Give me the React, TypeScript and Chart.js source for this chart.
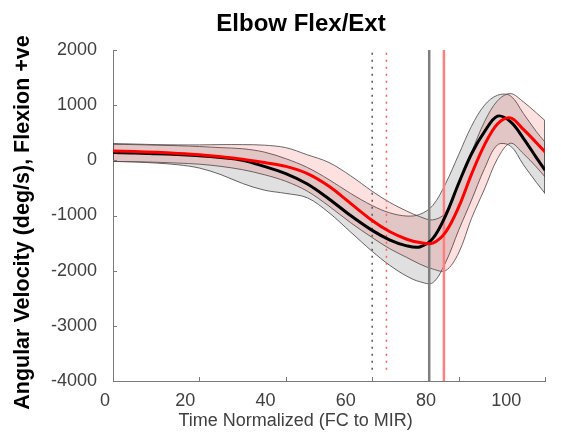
import React, { useEffect, useRef } from "react";
import { Chart, registerables } from "chart.js";

Chart.register(...registerables);

// ---- data ----
const timeX = [0, 5, 10, 15, 20, 25, 30, 35, 40, 45, 50, 55, 60, 64, 68, 71, 74, 77, 80, 83, 86, 89, 92, 95, 98, 100];
const blackMean = [140, 135, 120, 105, 85, 50, 0, -110, -240, -430, -700, -1000, -1270, -1440, -1550, -1570, -1420, -1000, -420, 120, 520, 800, 700, 400, 50, -180];
const blackUpper = [290, 285, 275, 265, 250, 230, 210, 150, 30, -130, -350, -600, -820, -950, -1010, -980, -820, -420, 100, 620, 1000, 1180, 1170, 850, 520, 330];
const blackLower = [-20, -30, -50, -80, -140, -260, -420, -540, -600, -680, -950, -1300, -1650, -1900, -2100, -2200, -2220, -1850, -1270, -720, -150, 280, 260, -80, -400, -600];
const redMean = [170, 160, 145, 125, 100, 65, 20, -40, -110, -240, -470, -780, -1090, -1290, -1430, -1490, -1500, -1300, -850, -250, 280, 660, 770, 560, 320, 150];
const redUpper = [305, 295, 285, 280, 280, 285, 285, 275, 230, 100, -40, -280, -560, -760, -920, -1020, -1080, -950, -420, 150, 700, 1080, 1210, 1060, 860, 720];
const redLower = [-20, -25, -35, -50, -70, -110, -170, -260, -380, -560, -830, -1130, -1400, -1600, -1760, -1880, -1970, -2000, -1680, -1050, -520, 30, 310, 120, -120, -300];

const dottedEvents = [60, 63.3]; // black, red
const solidEvents = [73.2, 76.6]; // black, red
const xTicks = [0, 20, 40, 60, 80, 100];
const yTicks = [-4000, -3000, -2000, -1000, 0, 1000, 2000];
const yRange = [-4000, 2000];
const dottedRange = [-3850, 1950];

const FONT = '"Liberation Sans", Arial, Helvetica, sans-serif';

const pts = (ys: number[]) => timeX.map((x, i) => ({ x, y: ys[i] }));
const vline = (x: number, r: number[]) => [{ x, y: r[1] }, { x, y: r[0] }];
const endEdge = (hi: number[], lo: number[], i: number) => [{ x: timeX[i], y: hi[i] }, { x: timeX[i], y: lo[i] }];

const overlay = {
  id: "overlay",
  afterDraw(chart: any) {
    const ctx = chart.ctx as CanvasRenderingContext2D;
    const xs = chart.scales.x;
    const ys = chart.scales.y;
    const a = chart.chartArea;
    ctx.save();
    // inward tick marks
    ctx.strokeStyle = "#7a7a7a";
    ctx.lineWidth = 1;
    ctx.beginPath();
    for (const v of yTicks) {
      const py = Math.round(ys.getPixelForValue(v)) + 0.5;
      ctx.moveTo(a.left, py);
      ctx.lineTo(a.left + 4, py);
    }
    for (const v of xTicks) {
      const px = Math.round(xs.getPixelForValue(v)) + 0.5;
      ctx.moveTo(px, a.bottom);
      ctx.lineTo(px, a.bottom - 4);
    }
    ctx.stroke();
    // x tick labels (slightly compressed placement as in the reference)
    ctx.fillStyle = "#404040";
    ctx.font = `18px ${FONT}`;
    ctx.textAlign = "center";
    ctx.textBaseline = "middle";
    const lab = (v: number) => a.left - 8 + (xs.getPixelForValue(v) - a.left) * 0.929;
    for (const v of xTicks) ctx.fillText(String(v), lab(v), a.bottom + 20);
    // x title
    ctx.textBaseline = "alphabetic";
    ctx.fillText("Time Normalized (FC to MIR)", (lab(xTicks[0]) + lab(xTicks[xTicks.length - 1])) / 2 - 10, a.bottom + 45);
    // chart title
    ctx.fillStyle = "#000";
    ctx.font = `bold 24px ${FONT}`;
    ctx.fillText("Elbow Flex/Ext", (a.left + a.right) / 2 - 28, a.top - 19);
    // y title
    ctx.translate(23, (a.top + a.bottom) / 2 + 7);
    ctx.rotate(-Math.PI / 2);
    ctx.font = `bold 21.5px ${FONT}`;
    ctx.textBaseline = "middle";
    ctx.fillText("Angular Velocity (deg/s), Flexion +ve", 0, 0);
    ctx.restore();
  },
};

export default function App() {
  const ref = useRef<HTMLCanvasElement | null>(null);
  useEffect(() => {
    if (!ref.current) return;
    Chart.defaults.font.family = FONT;
    const edge = "rgba(80,80,80,0.85)";
    const last = timeX.length - 1;
    const edgeDs = (d: any) => ({ label: "edge", data: d, borderColor: edge, borderWidth: 1, fill: false, order: 4, pointRadius: 0 });
    const chart = new Chart(ref.current, {
      type: "line",
      data: {
        datasets: [
          { label: "bu", data: pts(blackUpper), borderColor: edge, borderWidth: 1, backgroundColor: "rgba(0,0,0,0.12)", fill: "+1", order: 6, pointRadius: 0, tension: 0.35 },
          { label: "bl", data: pts(blackLower), borderColor: edge, borderWidth: 1, fill: false, order: 6, pointRadius: 0, tension: 0.35 },
          { label: "ru", data: pts(redUpper), borderColor: edge, borderWidth: 1, backgroundColor: "rgba(235,0,0,0.12)", fill: "+1", order: 5, pointRadius: 0, tension: 0.35 },
          { label: "rl", data: pts(redLower), borderColor: edge, borderWidth: 1, fill: false, order: 5, pointRadius: 0, tension: 0.35 },
          edgeDs(endEdge(blackUpper, blackLower, 0)),
          edgeDs(endEdge(blackUpper, blackLower, last)),
          edgeDs(endEdge(redUpper, redLower, 0)),
          edgeDs(endEdge(redUpper, redLower, last)),
          { label: "bd", data: vline(dottedEvents[0], dottedRange), borderColor: "#555", borderWidth: 1.5, borderDash: [2, 5], fill: false, order: 3, pointRadius: 0 },
          { label: "rd", data: vline(dottedEvents[1], dottedRange), borderColor: "#ff5a5a", borderWidth: 1.5, borderDash: [2, 5], fill: false, order: 3, pointRadius: 0 },
          { label: "bs", data: vline(solidEvents[0], yRange), borderColor: "#7f7f7f", borderWidth: 2.5, fill: false, order: 3, pointRadius: 0 },
          { label: "rs", data: vline(solidEvents[1], yRange), borderColor: "#ff7f7f", borderWidth: 2.5, fill: false, order: 3, pointRadius: 0 },
          { label: "black", data: pts(blackMean), borderColor: "#000", borderWidth: 3, fill: false, order: 1, pointRadius: 0, tension: 0.35 },
          { label: "red", data: pts(redMean), borderColor: "#ff0000", borderWidth: 3, fill: false, order: 0, pointRadius: 0, tension: 0.35 },
        ],
      },
      options: {
        animation: false,
        responsive: false,
        devicePixelRatio: 1,
        layout: { padding: { top: 50, right: 16, bottom: 0, left: 0 } },
        plugins: { legend: { display: false }, tooltip: { enabled: false }, title: { display: false } },
        scales: {
          x: {
            type: "linear",
            min: 0,
            max: 100,
            ticks: { display: false, stepSize: 20 },
            grid: { drawOnChartArea: false, drawTicks: false },
            border: { color: "#7a7a7a", width: 1 },
            afterFit: (s: any) => { s.height = 63; },
          },
          y: {
            type: "linear",
            min: yRange[0],
            max: yRange[1],
            ticks: { stepSize: 1000, color: "#404040", font: { size: 18 }, padding: 16, callback: (v: any) => String(v) },
            grid: { drawOnChartArea: false, drawTicks: false },
            border: { color: "#7a7a7a", width: 1 },
            afterFit: (s: any) => { s.width = 113; },
          },
        },
      },
      plugins: [overlay],
    } as any);
    return () => chart.destroy();
  }, []);
  return (
    <div style={{ position: "fixed", left: 0, top: 0, width: 561, height: 444, background: "#fff" }}>
      <canvas ref={ref} width={561} height={444} />
    </div>
  );
}
